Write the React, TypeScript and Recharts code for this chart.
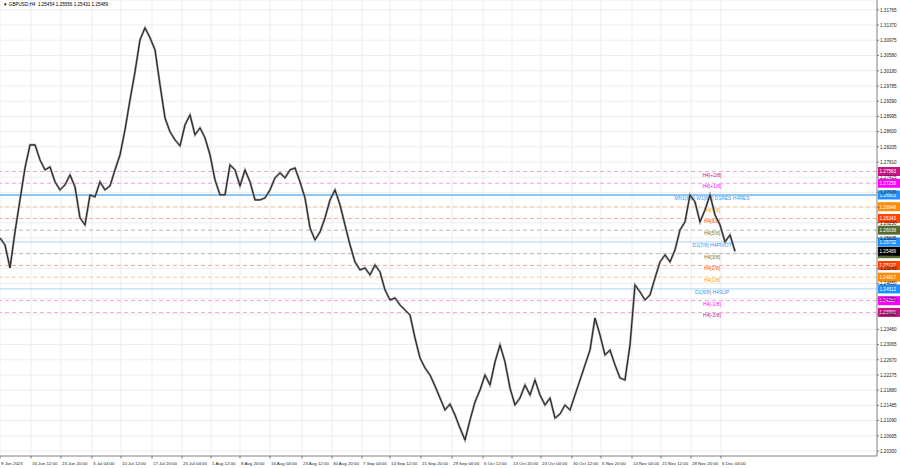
import { ComposedChart, Line, XAxis, YAxis, CartesianGrid, ReferenceLine } from "recharts";

// GBPUSD H4 closes, one reading every ~5px of the original chart
const closes = [
  1.25837, 1.25655, 1.25057, 1.25993, 1.26825, 1.27657, 1.28255, 1.28255, 1.27865, 1.27605,
  1.27683, 1.27293, 1.27085, 1.27215, 1.27475, 1.27163, 1.26357, 1.26175, 1.26955, 1.26903,
  1.27293, 1.27085, 1.27189, 1.27605, 1.27995, 1.28645, 1.29425, 1.30153, 1.30985, 1.31297,
  1.31037, 1.30725, 1.29815, 1.28957, 1.28593, 1.28385, 1.28229, 1.28775, 1.29035, 1.28515,
  1.28697, 1.28437, 1.27995, 1.27345, 1.26955, 1.26955, 1.27735, 1.27605, 1.27189, 1.27605,
  1.27293, 1.26825, 1.26825, 1.26877, 1.27085, 1.27397, 1.27527, 1.27397, 1.27605, 1.27657,
  1.27293, 1.26877, 1.26097, 1.25785, 1.25993, 1.26357, 1.26825, 1.27085, 1.26695, 1.26175,
  1.25655, 1.25213, 1.25005, 1.25057, 1.24875, 1.25135, 1.24953, 1.24485, 1.24225, 1.24277,
  1.24095, 1.23965, 1.23835, 1.23237, 1.22717, 1.22457, 1.22275, 1.21989, 1.21677, 1.21365,
  1.21521, 1.21235, 1.20897, 1.20585, 1.21105, 1.21573, 1.21885, 1.22275, 1.22015, 1.22613,
  1.23055, 1.22613, 1.21937, 1.21495, 1.21677, 1.22015, 1.21755, 1.22145, 1.21755, 1.21495,
  1.21677, 1.21157, 1.21261, 1.21495, 1.21365, 1.21755, 1.22145, 1.22535, 1.22925, 1.23757,
  1.23315, 1.22795, 1.22925, 1.22535, 1.22197, 1.22145, 1.23055, 1.24615, 1.24433, 1.24225,
  1.24355, 1.24797, 1.25213, 1.25395, 1.25213, 1.25525, 1.26045, 1.26253, 1.26955, 1.26773,
  1.26253, 1.26565, 1.26955, 1.26435, 1.26175, 1.25733, 1.25915, 1.25489,
];

const dateTicks = [
  0, 6.2, 12.2, 18.4, 24.2, 30.4, 36.4, 42.2, 48, 54, 60.4, 66.4, 72.4,
  78, 84.2, 90.4, 96.6, 102.4, 108.2, 114.4, 120.2, 126.4, 132.2, 138.2, 144.2,
];
const dateLabels = [
  "9 Jun 2023", "16 Jun 12:00", "23 Jun 20:00", "3 Jul 04:00", "10 Jul 12:00",
  "17 Jul 20:00", "25 Jul 04:00", "1 Aug 12:00", "8 Aug 20:00", "16 Aug 04:00",
  "23 Aug 12:00", "30 Aug 20:00", "7 Sep 04:00", "14 Sep 12:00", "21 Sep 20:00",
  "29 Sep 04:00", "6 Oct 12:00", "13 Oct 20:00", "23 Oct 04:00", "30 Oct 12:00",
  "6 Nov 20:00", "14 Nov 04:00", "21 Nov 12:00", "28 Nov 20:00", "6 Dec 04:00",
];

const priceTicks = [
  1.31765, 1.3137, 1.30975, 1.3058, 1.3018, 1.29785, 1.2939, 1.28995, 1.286, 1.28205,
  1.2781, 1.27415, 1.2702, 1.26625, 1.2623, 1.25835, 1.2544, 1.25045, 1.2465, 1.24255,
  1.2386, 1.2346, 1.23065, 1.2267, 1.22275, 1.2188, 1.21485, 1.2109, 1.20695, 1.203,
];

// murrey levels
const levelPrices = [
  1.27563, 1.27258, 1.26953, 1.26648, 1.26343, 1.26038, 1.25732,
  1.25427, 1.25122, 1.24817, 1.24512, 1.24207, 1.23901,
];
const levelNames = [
  "H4[+2/8]", "H4[+1/8]", "MN1[8/8] W1[8/8] D1RES H4RES", "H4[7/8]", "H4[6/8]", "H4[5/8]",
  "D1[7/8] H4PIVOT", "H4[3/8]", "H4[2/8]", "H4[1/8]", "D1[6/8] H4SUP", "H4[-1/8]", "H4[-2/8]",
];
const lastPrice = 1.25489;
const title = "▼ GBPUSD,H4  1.25454 1.25556 1.25431 1.25489";

const levelStyle = [
  { box: "#c71585", line: "#f0a8d8", text: "#c0208c", dash: "4 3", w: 1 },
  { box: "#ff00ff", line: "#f79af7", text: "#ff00ff", dash: "4 3", w: 1 },
  { box: "#1e90ff", line: "#8cc8f7", text: "#3d95e8", dash: undefined, w: 2 },
  { box: "#ff8c00", line: "#fcc796", text: "#ff9a1a", dash: "4 3", w: 1 },
  { box: "#ff4500", line: "#f9ab98", text: "#ff4f10", dash: "4 3", w: 1 },
  { box: "#556b2f", line: "#b8b8b0", text: "#6b7d3a", dash: "4 3", w: 1 },
  { box: "#1e90ff", line: "#a9d3f7", text: "#3d95e8", dash: undefined, w: 1 },
  { box: "#556b2f", line: "#b8b8b0", text: "#6b7d3a", dash: "4 3", w: 1 },
  { box: "#ff4500", line: "#f9ab98", text: "#ff4f10", dash: "4 3", w: 1 },
  { box: "#ff8c00", line: "#fcc796", text: "#ff9a1a", dash: "4 3", w: 1 },
  { box: "#1e90ff", line: "#a9d3f7", text: "#3d95e8", dash: undefined, w: 1 },
  { box: "#ff00ff", line: "#f79af7", text: "#ff00ff", dash: "4 3", w: 1 },
  { box: "#c71585", line: "#f0a8d8", text: "#c0208c", dash: "4 3", w: 1 },
];

const FONT = "'Liberation Sans', Arial, sans-serif";
const FS = 4.6;

const data = closes.map((c, i) => ({ i, c }));

// grid price hidden under a level box (as MT4 does)
const underBox = (v: number) =>
  [...levelPrices, lastPrice].some((p) => Math.abs(p - v) < 0.0003);

function LevelTag(props: any) {
  const { viewBox, price, name, box, color } = props;
  const { x, y, width } = viewBox;
  return (
    <g>
      {name && (
        <text x={x + 712} y={y + 5} fontSize={5} fill={color} textAnchor="middle" fontFamily={FONT}>
          {name}
        </text>
      )}
      <rect x={x + width + 1} y={y - 4.5} width={22} height={9} fill={box} />
      <text x={x + width + 2.5} y={y + 1.8} fontSize={FS} fill="#fff" fontFamily={FONT}>
        {price.toFixed(5)}
      </text>
    </g>
  );
}

const DateTick = (props: any) => {
  const { x, y, index } = props;
  return (
    <g>
      <line x1={x} x2={x} y1={y} y2={y + 2.5} stroke="#777" />
      <text x={x + 1} y={y + 9} fontSize={4.4} fill="#222" fontFamily={FONT}>
        {dateLabels[index]}
      </text>
    </g>
  );
};

const PriceTick = (props: any) => {
  const { x, y, payload } = props;
  return (
    <g>
      <line x1={x} x2={x + 2} y1={y} y2={y} stroke="#777" />
      {!underBox(payload.value) && (
        <text x={x + 3} y={y + 1.8} fontSize={FS} fill="#222" fontFamily={FONT}>
          {payload.value.toFixed(5)}
        </text>
      )}
    </g>
  );
};

export default function App() {
  return (
    <div style={{ position: "fixed", left: 0, top: 0, width: 900, height: 468, background: "#fff" }}>
      <ComposedChart width={900} height={468} data={data} margin={{ top: 0, right: 0, left: 0, bottom: 0 }}>
        <CartesianGrid stroke="#ededed" />
        <XAxis
          dataKey="i"
          type="number"
          domain={[0, 175.4]}
          ticks={dateTicks}
          interval={0}
          height={12}
          tickSize={0}
          tickMargin={0}
          tickLine={false}
          axisLine={{ stroke: "#888" }}
          tick={<DateTick />}
        />
        <YAxis
          orientation="right"
          type="number"
          domain={[1.2017, 1.3202]}
          ticks={priceTicks}
          interval={0}
          width={23}
          tickSize={0}
          tickMargin={0}
          tickLine={false}
          axisLine={{ stroke: "#888" }}
          tick={<PriceTick />}
        />
        {levelPrices.map((p, k) => (
          <ReferenceLine
            key={k}
            y={p}
            stroke={levelStyle[k].line}
            strokeWidth={levelStyle[k].w}
            strokeDasharray={levelStyle[k].dash}
            label={<LevelTag price={p} name={levelNames[k]} box={levelStyle[k].box} color={levelStyle[k].text} />}
          />
        ))}
        <ReferenceLine
          y={lastPrice}
          stroke="none"
          label={<LevelTag price={lastPrice} name="" box="#000" color="#000" />}
        />
        <Line dataKey="c" stroke="#8f8f8f" strokeWidth={2.2} dot={false} activeDot={false} isAnimationActive={false} />
        <Line dataKey="c" stroke="#222" strokeWidth={1} dot={false} activeDot={false} isAnimationActive={false} />
      </ComposedChart>
      <div
        style={{
          position: "absolute", left: 3, top: 2, fontSize: FS, fontFamily: FONT,
          color: "#000", whiteSpace: "pre",
        }}
      >
        {title}
      </div>
    </div>
  );
}
